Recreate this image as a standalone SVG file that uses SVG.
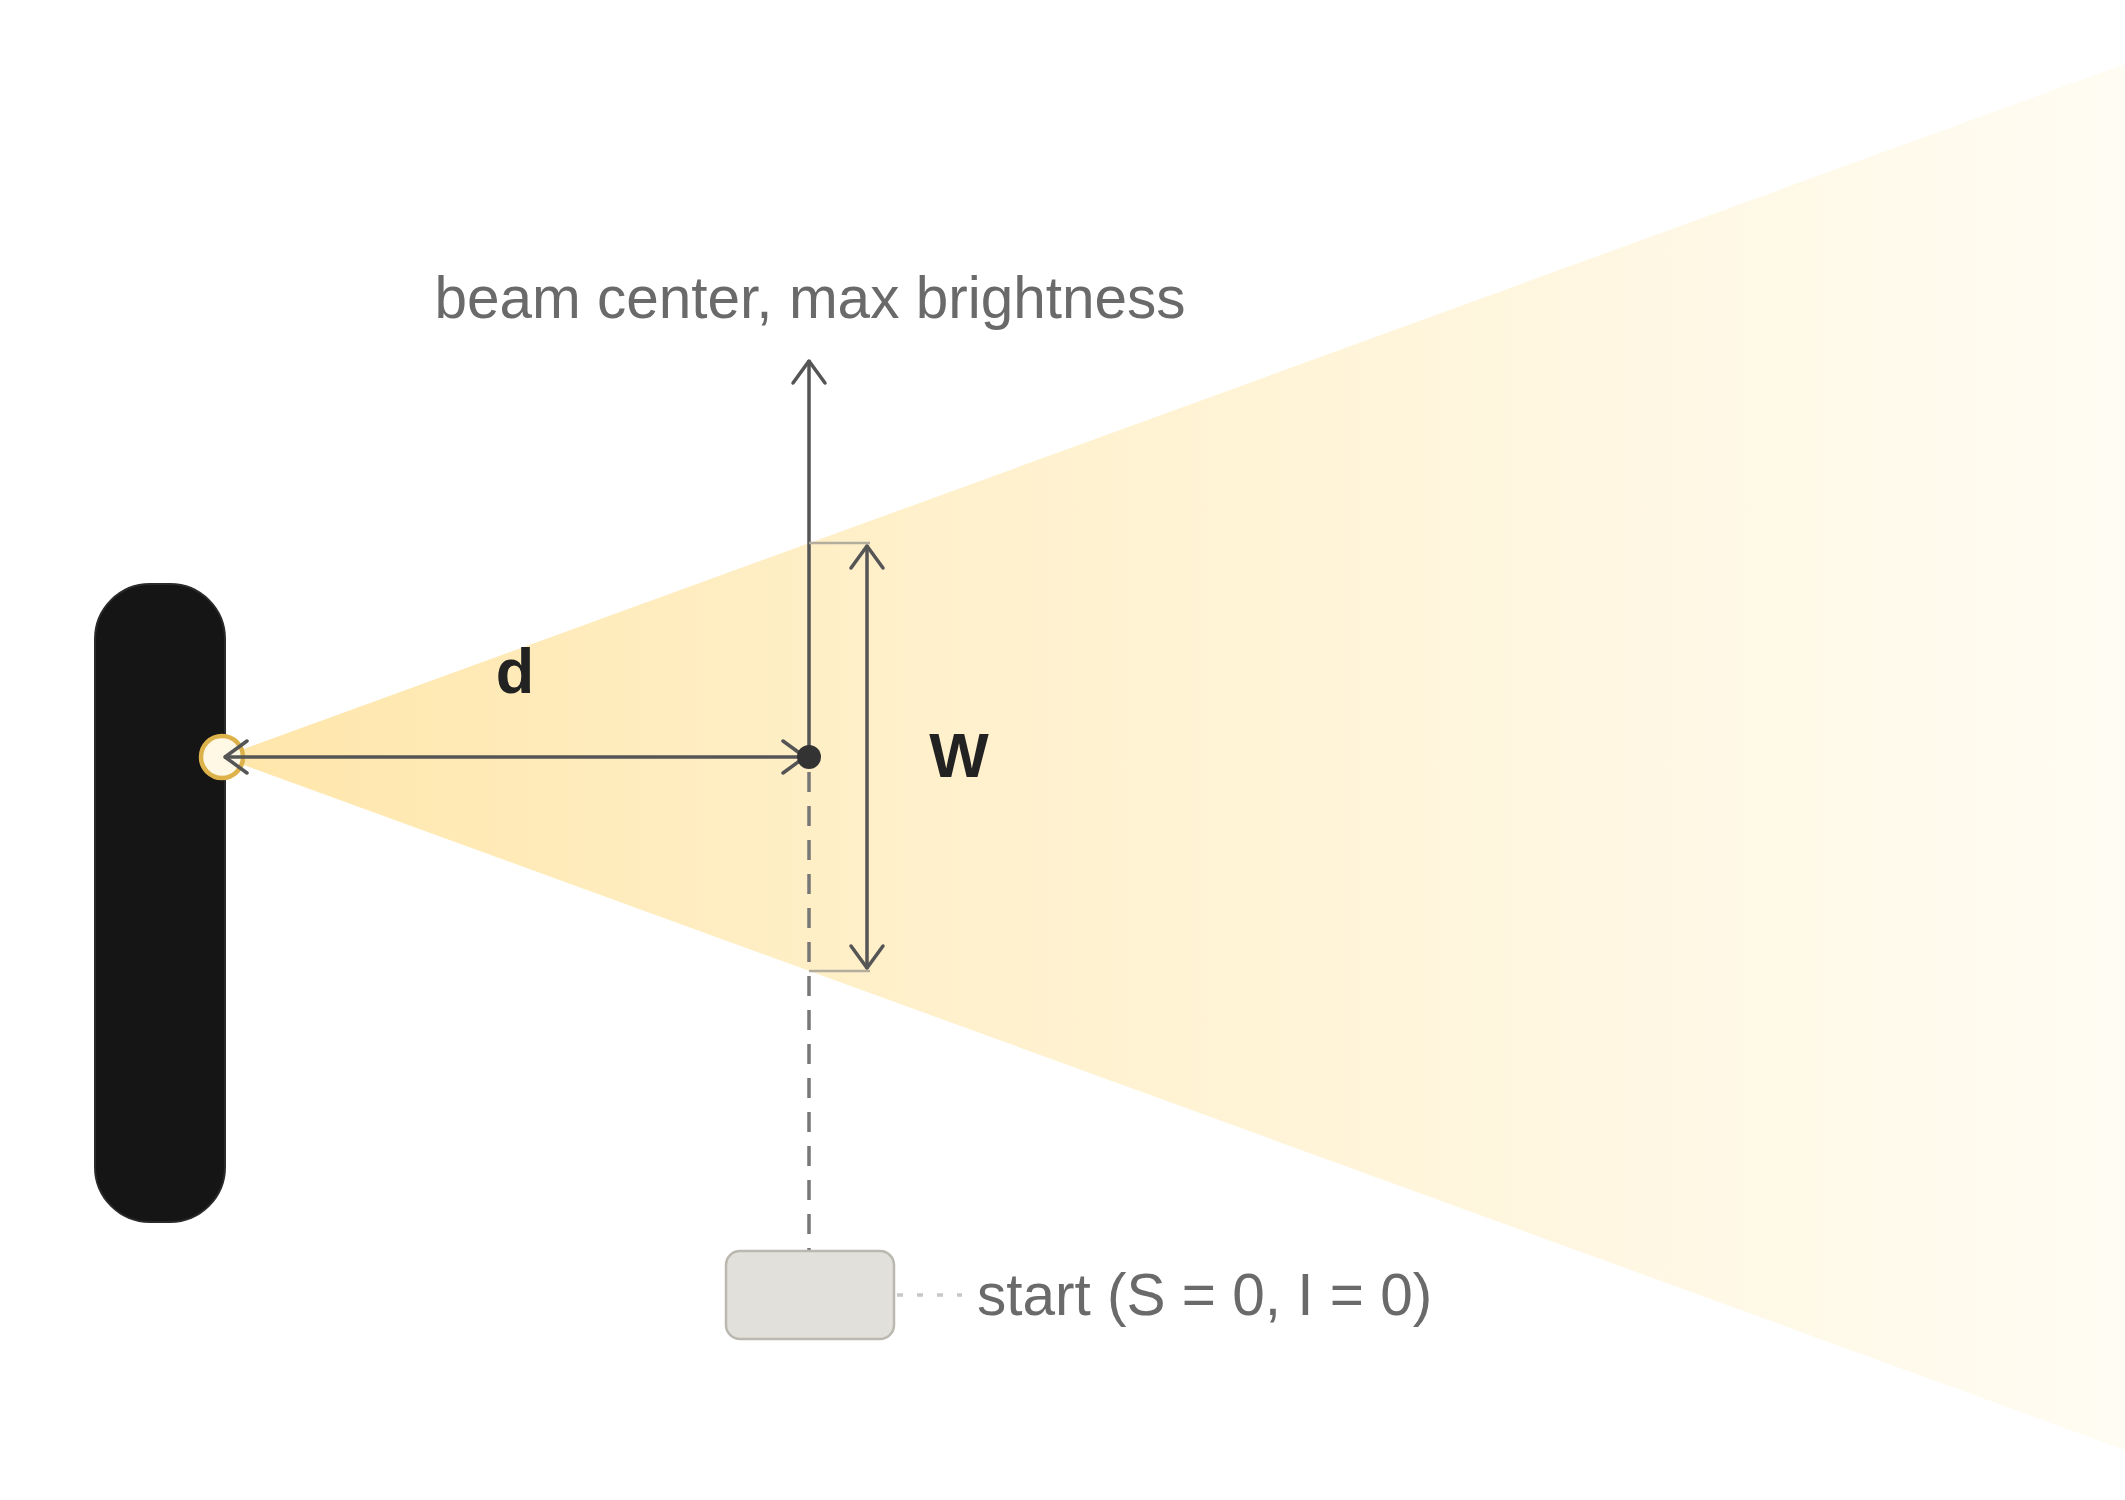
<svg xmlns="http://www.w3.org/2000/svg" width="2125" height="1500" viewBox="0 0 2125 1500">
  <defs>
    <linearGradient id="beamGrad" gradientUnits="userSpaceOnUse" x1="222" y1="0" x2="2125" y2="0">
      <stop offset="0" stop-color="#FFE6AA"/>
      <stop offset="0.35" stop-color="#FFF0CA"/>
      <stop offset="1" stop-color="#FFFCF3"/>
    </linearGradient>
    <marker id="open" viewBox="0 0 30 40" refX="28" refY="20" markerWidth="30" markerHeight="40" markerUnits="userSpaceOnUse" orient="auto-start-reverse">
      <path d="M5,4 L27,20 L5,36" fill="none" stroke="#555" stroke-width="3.5" stroke-linecap="round" stroke-linejoin="round"/>
    </marker>
    <style>
      .label { font-family: "Liberation Sans", Arial, sans-serif; font-size: 58.5px; fill: #6a6a6a; }
      .sym { font-family: "Liberation Sans", Arial, sans-serif; font-size: 63px; font-weight: bold; fill: #222; }
      .conn { fill: none; stroke: #555; stroke-width: 3.5; }
      .ext { fill: none; stroke: #b3ad9e; stroke-width: 2.5; }
    </style>
  </defs>
  <rect width="2125" height="1500" fill="#ffffff"/>

  <g id="beam">
    <polygon points="222,757 2125,64 2125,1450" fill="url(#beamGrad)"/>
  </g>

  <g id="wall">
    <rect x="95" y="584" width="130" height="638" rx="55" ry="55" fill="#151516" stroke="#2a2a2a" stroke-width="2"/>
  </g>

  <g id="source">
    <circle cx="222" cy="757" r="21" fill="#FFF8E4" stroke="#DDB24A" stroke-width="4.5"/>
  </g>

  <g id="connectors">
    <line class="conn" x1="224" y1="757" x2="806" y2="757" marker-start="url(#open)" marker-end="url(#open)"/>
    <line class="conn" x1="809" y1="757" x2="809" y2="360" marker-end="url(#open)"/>
    <line class="ext" x1="809" y1="543" x2="870" y2="543"/>
    <line class="ext" x1="809" y1="971" x2="870" y2="971"/>
    <line class="conn" x1="867" y1="545" x2="867" y2="969" marker-start="url(#open)" marker-end="url(#open)"/>
    <line x1="809" y1="772" x2="809" y2="1250" fill="none" stroke="#777" stroke-width="3.5" stroke-dasharray="20 14"/>
    <line x1="897" y1="1295" x2="962" y2="1295" fill="none" stroke="#c8c8c8" stroke-width="3.5" stroke-dasharray="6 14"/>
  </g>

  <g id="center-dot">
    <circle cx="809" cy="757" r="12" fill="#333"/>
  </g>

  <g id="label-d">
    <text class="sym" x="515" y="693" text-anchor="middle">d</text>
  </g>

  <g id="label-w">
    <text class="sym" x="959" y="777" text-anchor="middle">W</text>
  </g>

  <g id="label-beam-center">
    <text class="label" x="810" y="318" text-anchor="middle">beam center, max brightness</text>
  </g>

  <g id="start">
    <rect x="726" y="1251" width="168" height="88" rx="14" ry="14" fill="#E2E0DA" stroke="#BBB8B0" stroke-width="2.5"/>
    <text class="label" x="977" y="1315">start (S = 0, I = 0)</text>
  </g>
</svg>
